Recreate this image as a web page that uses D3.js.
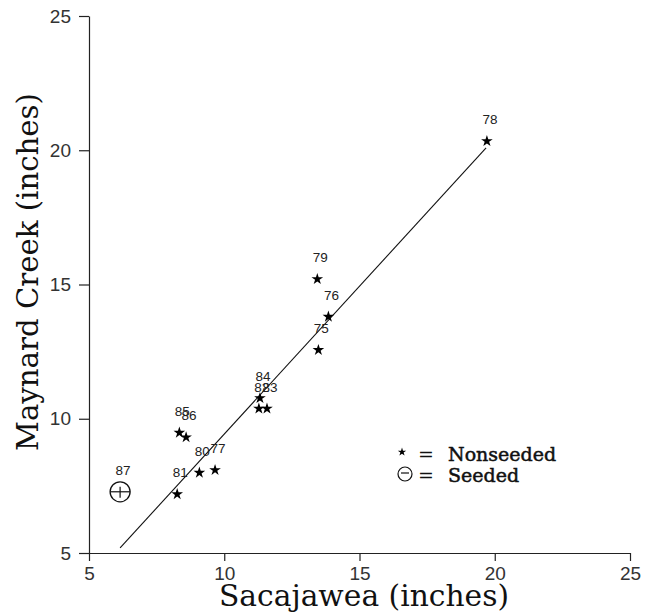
<!DOCTYPE html>
<html>
<head>
<meta charset="utf-8">
<script src="https://cdn.jsdelivr.net/npm/d3@7"></script>
<style>
body { margin:0; background:#fff; }
.axis text { font-family: "Liberation Sans", Arial, sans-serif; font-size:19px; fill:#333; }
.axis path, .axis line { stroke:#222; stroke-width:1.2px; }
</style>
</head>
<body>
<div id="graph"></div>
<script>
// nonseeded years
var years = ["75","76","77","78","79","80","81","82","83","84","85","86"];
var sacajawea = [13.48,13.85,9.66,19.71,13.44,9.08,8.26,11.28,11.58,11.32,8.34,8.59];
var maynard = [12.56,13.80,8.09,20.34,15.20,7.99,7.19,10.38,10.38,10.77,9.48,9.31];

// seeded year
var seededYears = ["87"];
var seededX = [6.15];
var seededY = [7.28];

// fitted line ends
var fitX = [6.15,19.68];
var fitY = [5.19,20.09];

var ticks = [5,10,15,20,25];
var legendLabels = ["Nonseeded","Seeded"];

var W = 652, H = 614;
var svg = d3.select('#graph').append('svg').attr('width',W).attr('height',H);

var xScale = d3.scaleLinear().domain([5,25]).range([89,630]);
var yScale = d3.scaleLinear().domain([5,25]).range([553,16]);

var xAxis = d3.axisBottom(xScale).tickValues(ticks).tickSize(8).tickPadding(6).tickSizeOuter(0);
var yAxis = d3.axisLeft(yScale).tickValues(ticks).tickSize(10).tickPadding(8).tickSizeOuter(0);

svg.append('g').attr('class','axis')
	.attr('transform','translate(0,553)')
	.call(xAxis)
svg.append('g').attr('class','axis')
	.attr('transform','translate(89,0)')
	.call(yAxis)

// axis titles
svg.append('text')
	.attr('x',364).attr('y',606)
	.attr('text-anchor','middle')
	.attr('font-family','"DejaVu Serif", serif')
	.attr('font-size','29px')
	.attr('fill','#111')
	.attr('textLength',290).attr('lengthAdjust','spacingAndGlyphs')
	.text('Sacajawea  (inches)');

svg.append('text')
	.attr('transform','translate(38,272) rotate(-90)')
	.attr('text-anchor','middle')
	.attr('font-family','"DejaVu Serif", serif')
	.attr('font-size','29px')
	.attr('fill','#111')
	.attr('textLength',358).attr('lengthAdjust','spacingAndGlyphs')
	.text('Maynard  Creek  (inches)');

// fitted line
var line = d3.line().x(d => xScale(d[0])).y(d => yScale(d[1]));
svg.append('path')
	.datum(d3.zip(fitX,fitY))
	.attr('d',line)
	.attr('fill','none')
	.attr('stroke','#111')
	.attr('stroke-width',1.1);

var pts = years.map(function(y,i){ return {year:y, x:sacajawea[i], y:maynard[i]} });
var seeded = seededYears.map(function(y,i){ return {year:y, x:seededX[i], y:seededY[i]} });

var star = d3.symbol().type(d3.symbolStar).size(42);

svg.selectAll('path.star').data(pts)
	.enter()
	.append('path')
	.attr('class','star')
	.attr('d',star)
	.attr('transform',d => 'translate(' + xScale(d.x) + ',' + yScale(d.y) + ')')
	.attr('fill','#000');

// seeded marker: circle with cross bar
var sg = svg.selectAll('g.seeded').data(seeded)
	.enter()
	.append('g')
	.attr('class','seeded')
	.attr('transform',d => 'translate(' + xScale(d.x) + ',' + yScale(d.y) + ')');
sg.append('circle').attr('r',10).attr('fill','none').attr('stroke','#111').attr('stroke-width',1.3);
sg.append('line').attr('x1',-10).attr('x2',10).attr('y1',0).attr('y2',0).attr('stroke','#111').attr('stroke-width',1.2);
sg.append('line').attr('x1',0).attr('x2',0).attr('y1',-5).attr('y2',6).attr('stroke','#111').attr('stroke-width',1.2);

// year labels (they overlap in the original too)
svg.selectAll('text.yr').data(pts.concat(seeded))
	.enter()
	.append('text')
	.attr('class','yr')
	.attr('x',d => xScale(d.x) + 3)
	.attr('y',d => yScale(d.y) - 17)
	.attr('text-anchor','middle')
	.attr('font-family','"Liberation Sans", Arial, sans-serif')
	.attr('font-size','13.5px')
	.attr('fill','#222')
	.text(d => d.year);

// legend
var lg = svg.append('g');
lg.append('path')
	.attr('d',d3.symbol().type(d3.symbolStar).size(22))
	.attr('transform','translate(402,452)')
	.attr('fill','#000');
var lc = lg.append('g').attr('transform','translate(405,474)');
lc.append('circle').attr('r',7).attr('fill','none').attr('stroke','#111').attr('stroke-width',1.2);
lc.append('line').attr('x1',-4).attr('x2',4).attr('y1',-1).attr('y2',-1).attr('stroke','#111').attr('stroke-width',1.2);

lg.selectAll('text.eq').data(legendLabels)
	.enter()
	.append('text')
	.attr('class','eq')
	.attr('x',418)
	.attr('y',(d,i) => 461 + i*21)
	.attr('font-family','"DejaVu Serif", serif')
	.attr('font-size','19px')
	.attr('fill','#111')
	.text('=');

lg.selectAll('text.lab').data(legendLabels)
	.enter()
	.append('text')
	.attr('class','lab')
	.attr('x',448)
	.attr('y',(d,i) => 461 + i*21)
	.attr('font-family','"DejaVu Serif", serif')
	.attr('font-size','19px')
	.attr('fill','#111')
	.attr('stroke','#111')
	.attr('stroke-width',0.5)
	.text(d => d);
</script>
</body>
</html>
